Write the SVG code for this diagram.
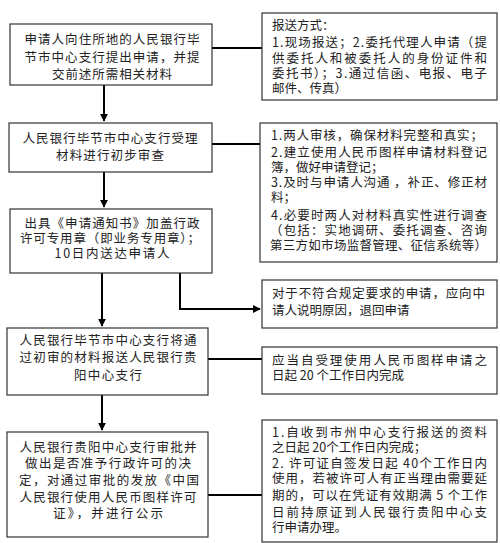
<svg xmlns="http://www.w3.org/2000/svg" width="500" height="543" viewBox="0 0 500 543">
<defs>
<marker id="ah" viewBox="0 0 10 10" refX="9" refY="5" markerWidth="4" markerHeight="4" orient="auto" markerUnits="strokeWidth">
<path d="M0,0 L10,5 L0,10 z" fill="#000"/>
</marker>
<style>
.box{fill:#fff;stroke:#333;stroke-width:1.2}
text{font-family:"Noto Sans CJK SC","Noto Sans",sans-serif;font-size:12.5px;fill:#222}
.c{text-anchor:middle}
.ln{stroke:#000;stroke-width:2;fill:none}
</style>
</defs>
<rect width="500" height="543" fill="#fff"/>
<g id="connectors">
<line class="ln" x1="104" y1="85" x2="104" y2="121" marker-end="url(#ah)"/>
<line class="ln" x1="104" y1="172" x2="104" y2="207" marker-end="url(#ah)"/>
<line class="ln" x1="102" y1="273" x2="102" y2="326" marker-end="url(#ah)"/>
<line class="ln" x1="102" y1="395" x2="102" y2="430" marker-end="url(#ah)"/>
<line class="ln" x1="212" y1="48" x2="262" y2="48"/>
<line class="ln" x1="212" y1="144" x2="260" y2="144"/>
<polyline class="ln" points="180,273 180,309 260,309" marker-end="url(#ah)"/>
<line class="ln" x1="208" y1="359" x2="262" y2="359"/>
<line class="ln" x1="208" y1="495" x2="262" y2="495"/>
</g>
<g id="n1">
<rect class="box" x="10" y="24" width="202" height="61"/>
<text class="c"><tspan x="112" y="44" textLength="175" lengthAdjust="spacing">申请人向住所地的人民银行毕</tspan><tspan x="112" y="62" textLength="175" lengthAdjust="spacing">节市中心支行提出申请，并提</tspan><tspan x="112" y="79" textLength="120" lengthAdjust="spacing">交前述所需相关材料</tspan></text>
</g>
<g id="n2">
<rect class="box" x="9" y="123" width="203" height="49"/>
<text class="c"><tspan x="110" y="143" textLength="175" lengthAdjust="spacing">人民银行毕节市中心支行受理</tspan><tspan x="110" y="160" textLength="108" lengthAdjust="spacing">材料进行初步审查</tspan></text>
</g>
<g id="n3">
<rect class="box" x="10" y="209" width="202" height="64"/>
<text class="c"><tspan x="112" y="228" textLength="175" lengthAdjust="spacing">出具《申请通知书》加盖行政</tspan><tspan x="110" y="243" textLength="180" lengthAdjust="spacing">许可专用章（即业务专用章）；</tspan><tspan x="112" y="258" textLength="115" lengthAdjust="spacing">10日内送达申请人</tspan></text>
</g>
<g id="n4">
<rect class="box" x="7" y="328" width="201" height="67"/>
<text class="c"><tspan x="108" y="345" textLength="177" lengthAdjust="spacing">人民银行毕节市中心支行将通</tspan><tspan x="108" y="362" textLength="177" lengthAdjust="spacing">过初审的材料报送人民银行贵</tspan><tspan x="108" y="380" textLength="68" lengthAdjust="spacing">阳中心支行</tspan></text>
</g>
<g id="n5">
<rect class="box" x="7" y="432" width="201" height="105"/>
<text class="c"><tspan x="108" y="452" textLength="177" lengthAdjust="spacing">人民银行贵阳中心支行审批并</tspan><tspan x="108" y="468" textLength="166" lengthAdjust="spacing">做出是否准予行政许可的决</tspan><tspan x="109" y="485" textLength="180" lengthAdjust="spacing">定，对通过审批的发放《中国</tspan><tspan x="108" y="502" textLength="177" lengthAdjust="spacing">人民银行使用人民币图样许可</tspan><tspan x="108" y="518" textLength="110" lengthAdjust="spacing">证》，并进行公示</tspan></text>
</g>
<g id="r1">
<rect class="box" x="262" y="13" width="235" height="87"/>
<text><tspan x="272" y="30">报送方式：</tspan><tspan x="272" y="47" textLength="215" lengthAdjust="spacing">1.现场报送；2.委托代理人申请（提</tspan><tspan x="272" y="63" textLength="215" lengthAdjust="spacing">供委托人和被委托人的身份证件和</tspan><tspan x="272" y="78" textLength="215" lengthAdjust="spacing">委托书）；3.通过信函、电报、电子</tspan><tspan x="272" y="93">邮件、传真）</tspan></text>
</g>
<g id="r2">
<rect class="box" x="260" y="123" width="237" height="139"/>
<text><tspan x="271" y="140" textLength="212" lengthAdjust="spacing">1.两人审核，确保材料完整和真实；</tspan><tspan x="271" y="157" textLength="216" lengthAdjust="spacing">2.建立使用人民币图样申请材料登记</tspan><tspan x="271" y="172">簿，做好申请登记；</tspan><tspan x="271" y="187" textLength="216" lengthAdjust="spacing">3.及时与申请人沟通 ，补正、修正材</tspan><tspan x="271" y="202">料；</tspan><tspan x="271" y="220" textLength="216" lengthAdjust="spacing">4.必要时两人对材料真实性进行调查</tspan><tspan x="270" y="235" textLength="217" lengthAdjust="spacing">（包括：实地调研、委托调查、咨询</tspan><tspan x="270" y="250" textLength="217" lengthAdjust="spacing">第三方如市场监督管理、征信系统等）</tspan></text>
</g>
<g id="r3">
<rect class="box" x="262" y="280" width="235" height="48"/>
<text><tspan x="272" y="298" textLength="213" lengthAdjust="spacing">对于不符合规定要求的申请，应向中</tspan><tspan x="272" y="315">请人说明原因，退回申请</tspan></text>
</g>
<g id="r4">
<rect class="box" x="262" y="347" width="235" height="47"/>
<text><tspan x="272" y="365" textLength="215" lengthAdjust="spacing">应当自受理使用人民币图样申请之</tspan><tspan x="272" y="380">日起 20 个工作日内完成</tspan></text>
</g>
<g id="r5">
<rect class="box" x="262" y="420" width="235" height="122"/>
<text><tspan x="272" y="437" textLength="215" lengthAdjust="spacing">1.自收到市州中心支行报送的资料</tspan><tspan x="272" y="452">之日起 20个工作日内完成；</tspan><tspan x="272" y="468" textLength="215" lengthAdjust="spacing">2. 许可证自签发日起 40个工作日内</tspan><tspan x="272" y="483" textLength="215" lengthAdjust="spacing">使用，若被许可人有正当理由需要延</tspan><tspan x="272" y="500" textLength="215" lengthAdjust="spacing">期的，可以在凭证有效期满 5 个工作</tspan><tspan x="272" y="517" textLength="215" lengthAdjust="spacing">日前持原证到人民银行贵阳中心支</tspan><tspan x="272" y="532">行申请办理。</tspan></text>
</g>
</svg>
